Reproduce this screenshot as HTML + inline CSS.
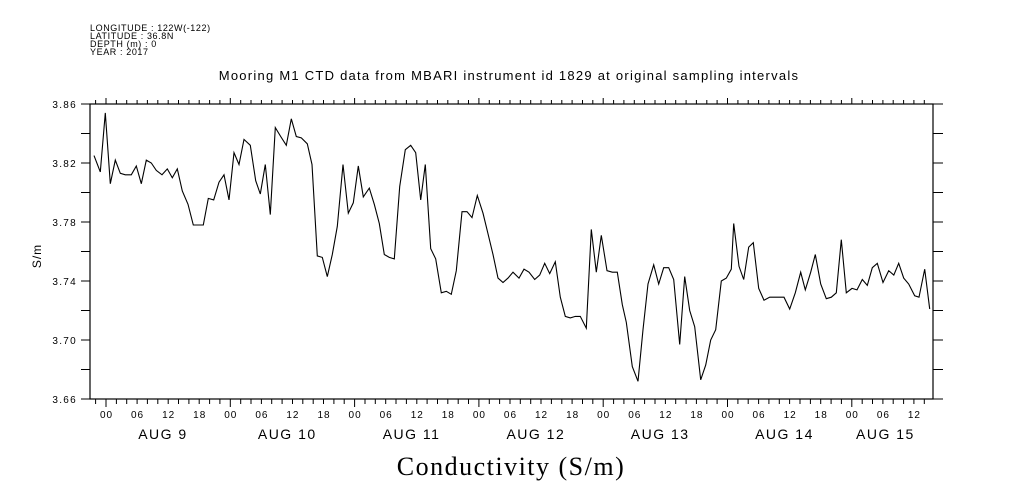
<!DOCTYPE html>
<html><head><meta charset="utf-8"><style>
body{margin:0;background:#fff;width:1009px;height:504px;overflow:hidden}
svg{display:block}
text{font-family:"Liberation Sans",sans-serif;fill:#000}
</style></head><body>
<svg id="chart" width="1009" height="504" viewBox="0 0 1009 504">
<g font-size="9" letter-spacing="0.6">
<text x="90" y="31">LONGITUDE : 122W(-122)</text>
<text x="90" y="39">LATITUDE : 36.8N</text>
<text x="90" y="47">DEPTH (m) : 0</text>
<text x="90" y="55">YEAR : 2017</text>
</g>
<text x="509" y="80" font-size="13" letter-spacing="1.25" text-anchor="middle">Mooring M1 CTD data from MBARI instrument id 1829 at original sampling intervals</text>
<text transform="translate(41,256) rotate(-90)" font-size="12" letter-spacing="1" text-anchor="middle">S/m</text>
<text x="511" y="475" font-size="26" letter-spacing="1.5" text-anchor="middle" style="font-family:'Liberation Serif',serif">Conductivity (S/m)</text>
<g id="axes"></g>
<g id="series"></g>
</svg>
<script>
const hours=[-2.32,-1.10,-0.14,0.83,1.80,2.76,3.73,4.89,5.85,6.82,7.78,8.75,9.71,10.81,11.84,12.80,13.77,14.73,15.83,16.86,17.76,18.79,19.75,20.80,21.82,22.78,23.75,24.72,25.68,26.65,27.86,28.91,29.79,30.76,31.72,32.69,33.73,34.81,35.78,36.74,37.71,38.87,39.78,40.80,41.77,42.73,43.70,44.66,45.76,46.78,47.75,48.72,49.68,50.84,51.81,52.77,53.74,54.70,55.67,56.71,57.79,58.83,59.80,60.76,61.65,62.70,63.66,64.74,65.71,66.67,67.64,68.74,69.70,70.67,71.69,72.79,73.76,74.72,75.69,76.66,77.62,78.59,79.74,80.71,81.68,82.78,83.74,84.71,85.67,86.75,87.72,88.69,89.65,90.62,91.58,92.74,93.71,94.67,95.64,96.74,97.76,98.73,99.69,100.46,101.62,102.72,103.69,104.65,105.75,106.72,107.69,108.65,109.62,110.77,111.74,112.71,113.67,114.83,115.80,116.76,117.73,118.81,119.77,120.74,121.20,122.22,123.13,124.10,124.99,126.03,127.05,128.15,129.12,130.08,130.91,132.01,133.09,134.14,135.02,136.07,136.95,138.00,139.08,140.04,141.01,141.98,142.94,144.04,145.01,146.03,147.00,147.96,148.93,150.03,151.13,152.10,153.06,154.03,154.99,156.15,156.98,158.08,159.05];
const conductivity=[3.825,3.814,3.854,3.806,3.822,3.813,3.812,3.812,3.818,3.806,3.822,3.820,3.815,3.812,3.816,3.810,3.816,3.801,3.792,3.778,3.778,3.778,3.796,3.795,3.807,3.812,3.795,3.827,3.819,3.836,3.832,3.808,3.799,3.819,3.785,3.844,3.838,3.832,3.850,3.838,3.837,3.833,3.819,3.757,3.756,3.743,3.758,3.777,3.819,3.786,3.793,3.818,3.797,3.803,3.792,3.779,3.758,3.756,3.755,3.804,3.829,3.832,3.827,3.795,3.819,3.762,3.755,3.732,3.733,3.731,3.747,3.787,3.787,3.783,3.798,3.786,3.772,3.758,3.742,3.739,3.742,3.746,3.742,3.748,3.746,3.741,3.744,3.752,3.745,3.753,3.729,3.716,3.715,3.716,3.716,3.708,3.775,3.746,3.771,3.747,3.746,3.746,3.724,3.712,3.682,3.672,3.707,3.738,3.751,3.738,3.749,3.749,3.741,3.697,3.743,3.720,3.709,3.673,3.683,3.700,3.707,3.740,3.742,3.748,3.779,3.750,3.741,3.763,3.766,3.735,3.727,3.729,3.729,3.729,3.729,3.721,3.732,3.746,3.734,3.746,3.758,3.738,3.728,3.729,3.732,3.768,3.732,3.735,3.734,3.741,3.737,3.749,3.752,3.739,3.747,3.744,3.752,3.742,3.738,3.730,3.729,3.748,3.721];
const yTickValues=[3.66,3.68,3.70,3.72,3.74,3.76,3.78,3.80,3.82,3.84,3.86];
const yTickLabels=["3.66","3.70","3.74","3.78","3.82","3.86"];
const hourLabels=["00","06","12","18"];
const dayLabels=["AUG  9","AUG 10","AUG 11","AUG 12","AUG 13","AUG 14","AUG 15"];
const dayLabelHours=[11,35,59,83,107,131,150.5];

const X0=90,X1=933,Y0=104,Y1=399;
const xs=h=>106+h*124.3/24;
const ys=v=>Y1-(v-3.66)/0.2*(Y1-Y0);
const NS="http://www.w3.org/2000/svg";
const axes=document.getElementById('axes');
function mk(tag,attrs,parent){const e=document.createElementNS(NS,tag);for(const k in attrs)e.setAttribute(k,attrs[k]);(parent||axes).appendChild(e);return e;}

const frame=mk('rect',{x:X0,y:Y0,width:X1-X0,height:Y1-Y0,fill:'none',stroke:'#000','stroke-width':1.2});



let d='';
yTickValues.forEach(v=>{const y=ys(v).toFixed(1);d+=`M${X0-9},${y}H${X0}M${X1},${y}H${X1+10}`;});
for(let h=-2;h<=158;h+=2){const x=xs(h).toFixed(1);const maj=(h%24===0);
 d+=`M${x},${Y1}V${Y1+(maj?8:5)}M${x},${Y0}V${Y0-(maj?6:4)}`;}
const ticks=mk('path',{d:d,stroke:'#000','stroke-width':1,fill:'none'});



yTickLabels.forEach(s=>{const t=mk('text',{x:77,y:ys(parseFloat(s))+4,'text-anchor':'end','font-size':10,'letter-spacing':1.3});t.textContent=s;
 
 });
for(let h=0;h<=156;h+=6){const t=mk('text',{x:xs(h)+0.5,y:418,'text-anchor':'middle','font-size':10,'letter-spacing':1});t.textContent=hourLabels[(h/6)%4];
 
 }
dayLabels.forEach((s,i)=>{const t=mk('text',{x:xs(dayLabelHours[i]),y:439,'text-anchor':'middle','font-size':14,'letter-spacing':1.5,'xml:space':'preserve'});t.textContent=s;
 
 });

const pts=hours.map((h,i)=>xs(h).toFixed(1)+','+ys(conductivity[i]).toFixed(1)).join(' ');
const line=mk('polyline',{points:pts,fill:'none',stroke:'#000','stroke-width':1.1},document.getElementById('series'));


</script>
</body></html>
